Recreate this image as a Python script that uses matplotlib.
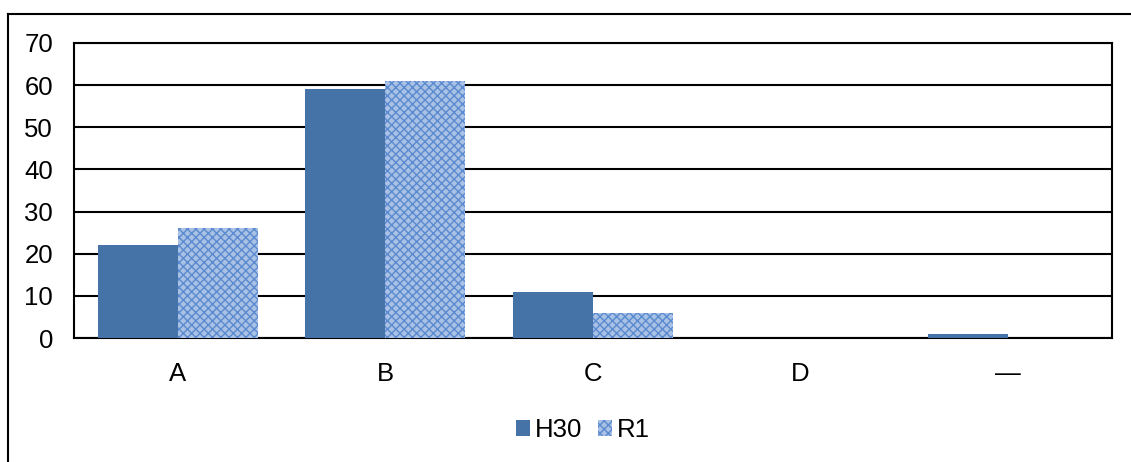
import matplotlib.pyplot as plt
from matplotlib.lines import Line2D
from matplotlib.patches import Patch
import numpy as np

# data
categories = ['A', 'B', 'C', 'D', '―']
h30 = [22, 59, 11, 0, 1]
r1 = [26, 61, 6, 0, 0]
yticks = [0, 10, 20, 30, 40, 50, 60, 70]

plt.rcParams['font.family'] = ['Liberation Sans', 'DejaVu Sans']
plt.rcParams['hatch.linewidth'] = 1.0

W, H = 1131, 462
fig = plt.figure(figsize=(W / 100, H / 100), dpi=100)
ax = fig.add_axes([74 / W, 1 - 338 / H, (1112 - 74) / W, (338 - 43) / H])

x = np.arange(len(categories))
bw = 0.385
ax.bar(x - bw / 2, h30, bw, color='#4572A7', zorder=3)
ax.bar(x + bw / 2, r1, bw, facecolor='#A9C1E4', edgecolor='#5A8AD0',
       hatch='xxxx', linewidth=0, zorder=3)

ax.set_xlim(-0.5, len(categories) - 0.5)
ax.set_ylim(0, 70)
ax.set_yticks(yticks)
ax.set_xticks(x)
ax.set_xticklabels(categories)
ax.tick_params(axis='both', length=0, labelsize=18.5, colors='black')
ax.tick_params(axis='x', pad=17)
ax.tick_params(axis='y', pad=15)
ax.yaxis.grid(True, color='black', linewidth=1.5, zorder=0)
for s in ax.spines.values():
    s.set_color('black')
    s.set_linewidth(1.5)

handles = [Patch(facecolor='#4572A7', label='H30'),
           Patch(facecolor='#A9C1E4', edgecolor='#5A8AD0', hatch='xxxx',
                 linewidth=0, label='R1')]
fig.legend(handles=handles, loc='center', bbox_to_anchor=(583 / W, 1 - 430 / H),
           ncol=2, frameon=False, fontsize=18.5, handlelength=0.55,
           handleheight=0.55, handletextpad=0.2, columnspacing=0.6)

# outer chart frame
fig.add_artist(Line2D([8 / W, 8 / W], [0, 1 - 14 / H], transform=fig.transFigure,
                      color='black', linewidth=1.5))
fig.add_artist(Line2D([8 / W, 1], [1 - 14 / H, 1 - 14 / H], transform=fig.transFigure,
                      color='black', linewidth=1.5))

fig.savefig('out.png', dpi=100)
